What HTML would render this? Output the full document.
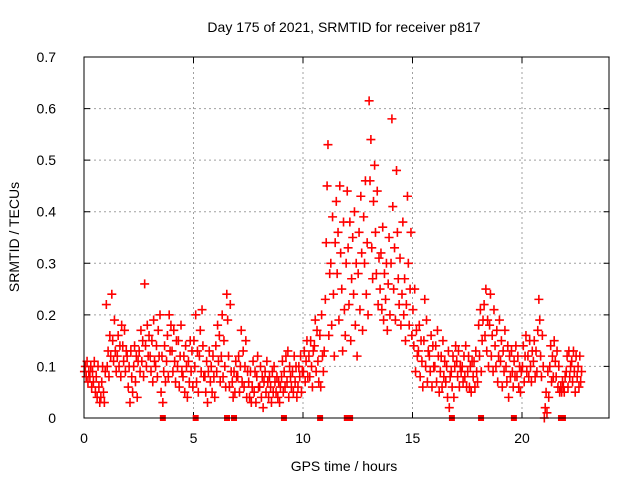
<!DOCTYPE html>
<html><head><meta charset="utf-8"><style>
body{margin:0;background:#fff;}
svg{display:block;font-family:"Liberation Sans",sans-serif;}
</style></head><body>
<svg id="chart" width="640" height="480" viewBox="0 0 640 480" xmlns="http://www.w3.org/2000/svg">
<rect width="640" height="480" fill="#fff"/>
<text x="344" y="32" font-size="14" text-anchor="middle" fill="#000">Day 175 of 2021, SRMTID for receiver p817</text>
<text transform="translate(19,237) rotate(-90)" font-size="14" text-anchor="middle" fill="#000">SRMTID / TECUs</text>
<text x="344" y="471" font-size="14" text-anchor="middle" fill="#000">GPS time / hours</text>
<g id="grid"></g><g id="ticks"></g><g id="marks"></g>
<rect x="84" y="57" width="525" height="361" fill="none" stroke="#000" stroke-width="1"/>
</svg>
<script>
const xTicks=[0,5,10,15,20];
const yTicks=[0,0.1,0.2,0.3,0.4,0.5,0.6,0.7];
const yTickLabels=["0","0.1","0.2","0.3","0.4","0.5","0.6","0.7"];
const binStarts=[0,0.25,0.5,0.75,1,1.25,1.5,1.75,2,2.25,2.5,2.75,3,3.25,3.5,3.75,4,4.25,4.5,4.75,5,5.25,5.5,5.75,6,6.25,6.5,6.75,7,7.25,7.5,7.75,8,8.25,8.5,8.75,9,9.25,9.5,9.75,10,10.25,10.5,10.75,11,11.25,11.5,11.75,12,12.25,12.5,12.75,13,13.25,13.5,13.75,14,14.25,14.5,14.75,15,15.25,15.5,15.75,16,16.25,16.5,16.75,17,17.25,17.5,17.75,18,18.25,18.5,18.75,19,19.25,19.5,19.75,20,20.25,20.5,20.75,21,21.25,21.5,21.75,22,22.25,22.5];
const binValues=[
[.09,.10,.08,.11,.07,.09],[.08,.10,.06,.09,.07,.11],[.05,.08,.04,.10,.06,.03],[.04,.07,.10,.05,.03,.09],
[.22,.10,.13,.08,.16,.12],[.24,.15,.11,.19,.13,.09],[.12,.16,.10,.14,.08,.18],[.14,.11,.17,.09,.13,.12],
[.06,.10,.03,.13,.08,.05],[.10,.14,.07,.12,.04,.11],[.13,.09,.17,.11,.15,.08],[.26,.14,.10,.18,.12,.16],
[.12,.09,.15,.07,.19,.11],[.10,.14,.08,.17,.12,.20],[.05,.12,.03,.09,.14,.07],[.11,.16,.08,.20,.13,.18],
[.13,.09,.17,.11,.07,.15],[.10,.15,.06,.12,.18,.09],[.08,.12,.05,.14,.10,.04],[.11,.07,.15,.09,.13,.06],
[.15,.10,.20,.07,.13,.05],[.12,.17,.09,.21,.14,.08],[.08,.05,.11,.03,.09,.13],[.07,.10,.05,.12,.08,.04],
[.14,.09,.18,.11,.16,.07],[.12,.20,.08,.15,.10,.06],[.24,.19,.12,.06,.22,.09],[.07,.04,.09,.05,.11,.08],
[.08,.12,.05,.10,.17,.07],[.13,.06,.10,.15,.04,.09],[.07,.04,.09,.03,.06,.11],[.05,.09,.03,.08,.12,.06],
[.06,.10,.04,.08,.02,.07],[.09,.05,.11,.07,.04,.08],[.06,.03,.09,.05,.10,.07],[.05,.08,.04,.07,.03,.06],
[.08,.11,.05,.09,.06,.12],[.07,.13,.04,.10,.08,.06],[.09,.05,.12,.07,.10,.04],[.06,.10,.08,.12,.05,.09],
[.09,.13,.07,.11,.15,.08],[.12,.08,.15,.10,.06,.13],[.14,.19,.09,.17,.11,.07],[.16,.06,.20,.12,.09,.13],
[.23,.34,.45,.53,.16,.28],[.30,.18,.39,.24,.12,.34],[.42,.28,.36,.19,.45,.32],[.25,.13,.38,.21,.16,.30],
[.44,.33,.22,.38,.15,.27],[.35,.24,.40,.18,.30,.12],[.28,.36,.21,.43,.32,.17],[.39,.30,.46,.24,.34,.20],
[.615,.46,.54,.33,.27,.42],[.49,.36,.28,.44,.22,.31],[.25,.32,.21,.37,.19,.28],[.23,.30,.17,.26,.35,.20],
[.30,.58,.41,.25,.33,.19],[.48,.36,.27,.22,.31,.18],[.24,.38,.20,.27,.15,.22],[.43,.30,.18,.25,.36,.16],
[.21,.14,.25,.09,.17,.12],[.13,.18,.08,.15,.11,.06],[.15,.23,.10,.19,.07,.13],[.12,.09,.16,.06,.14,.10],
[.10,.14,.07,.17,.12,.05],[.09,.12,.06,.15,.08,.11],[.07,.10,.04,.13,.02,.08],[.09,.06,.12,.04,.10,.14],
[.11,.08,.13,.06,.10,.09],[.10,.07,.12,.08,.14,.06],[.09,.12,.06,.10,.05,.11],[.08,.11,.06,.13,.09,.07],
[.18,.12,.21,.09,.15,.19],[.22,.16,.25,.13,.19,.10],[.18,.24,.12,.16,.09,.21],[.14,.10,.17,.07,.12,.19],
[.11,.15,.06,.13,.09,.17],[.10,.07,.14,.04,.12,.08],[.13,.09,.06,.11,.08,.14],[.08,.12,.06,.10,.05,.09],
[.10,.14,.07,.12,.16,.09],[.12,.08,.15,.10,.07,.13],[.11,.15,.08,.13,.09,.17],[.23,.19,.12,.08,.16,.10],
[.00,.02,.05,.01,.09,.04],[.10,.14,.07,.12,.08,.15],[.11,.08,.13,.06,.10,.05],[.06,.05,.07,.06,.05,.08],
[.09,.12,.06,.13,.08,.10],[.11,.07,.13,.09,.05,.12],[.08,.10,.06,.12,.07,.09]];
const zeroHours=[3.6,5.1,6.53,6.85,9.13,10.78,12.0,12.15,16.8,18.13,19.63,21.78,21.87];

const NS="http://www.w3.org/2000/svg";
const X0=84,X1=609.6,Y0=418,Y1=57,XMAX=24,YMAX=0.7;
function xs(h){return X0+(X1-X0)*h/XMAX;}
function ys(v){return Y0-(Y0-Y1)*v/YMAX;}
function mk(tag,attrs,parent){const e=document.createElementNS(NS,tag);for(const k in attrs)e.setAttribute(k,attrs[k]);parent.appendChild(e);return e;}
const grid=document.getElementById('grid'),ticks=document.getElementById('ticks'),marks=document.getElementById('marks');
xTicks.forEach((t,i)=>{
  const x=xs(t);
  if(t>0){const g=mk('line',{x1:x,x2:x,y1:Y1,y2:Y0,stroke:'#a0a0a0','stroke-dasharray':'2,3'},grid);
  
  }
  const tk=mk('path',{d:`M${x},${Y0}v-6M${x},${Y1}v6`,stroke:'#000'},ticks);
  
  
  const lb=mk('text',{x:x,y:443,'font-size':14,'text-anchor':'middle',fill:'#000'},ticks);
  lb.textContent=String(t);
  
  
});
yTicks.forEach((t,i)=>{
  const y=ys(t);
  if(t>0&&t<0.7){const g=mk('line',{x1:X0,x2:X1,y1:y,y2:y,stroke:'#a0a0a0','stroke-dasharray':'2,3'},grid);
  
  }
  const tk=mk('path',{d:`M${X0},${y}h6M${X1},${y}h-6`,stroke:'#000'},ticks);
  
  
  const lb=mk('text',{x:56,y:y+5,'font-size':14,'text-anchor':'end',fill:'#000'},ticks);
  lb.textContent=yTickLabels[i];
  
  
});
binStarts.forEach((h,i)=>{
  binValues[i].forEach((v,j)=>{
    const x=xs(h+j*0.04+0.02),y=ys(v);
    const p=mk('path',{d:`M${x-4.5},${y}h9M${x},${y-4.5}v9`,stroke:'#ff0000','stroke-width':1.6},marks);
    
    
  });
});
zeroHours.forEach(h=>{
  const r=mk('rect',{x:xs(h)-3,y:Y0-3,width:6,height:6,fill:'#ff0000'},marks);
  
  
});
</script>
</body></html>
